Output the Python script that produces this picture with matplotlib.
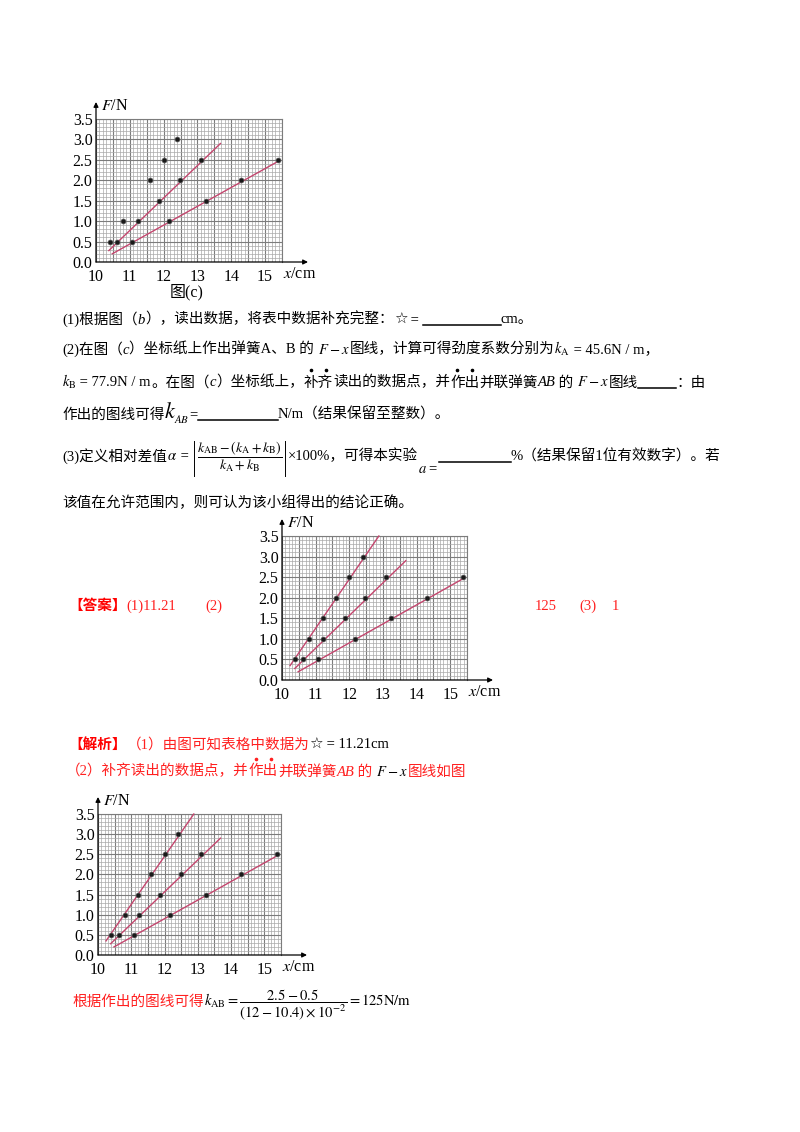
import matplotlib
matplotlib.use('Agg')
import matplotlib.pyplot as plt
from matplotlib.lines import Line2D
import numpy as np

plt.rcParams['mathtext.fontset'] = 'stix'
plt.rcParams['font.family'] = ['Liberation Serif', 'Noto Sans CJK SC', 'DejaVu Sans']

W, H = 800, 1132

# ---------------- data ----------------
x_ticks = [10, 11, 12, 13, 14, 15]
y_ticks = [0.0, 0.5, 1.0, 1.5, 2.0, 2.5, 3.0, 3.5]

# parallel springs AB (complete, used in answer charts)
x_AB = [10.40, 10.80, 11.21, 11.60, 12.00, 12.40]
F_AB = [0.5, 1.0, 1.5, 2.0, 2.5, 3.0]
# parallel springs AB as read in figure (c) (star point missing)
x_AB_c = [10.40, 10.80, 11.60, 12.00, 12.40]
F_AB_c = [0.5, 1.0, 2.0, 2.5, 3.0]
# spring A
x_A = [10.62, 11.23, 11.86, 12.48, 13.10]
F_A = [0.5, 1.0, 1.5, 2.0, 2.5]
# spring B
x_B = [11.07, 12.17, 13.24, 14.30, 15.38]
F_B = [0.5, 1.0, 1.5, 2.0, 2.5]
# fitted lines (end points)
lineA_x = [10.38, 13.68]
lineA_F = [0.28, 2.90]
lineB_x = [10.48, 15.42]
lineB_F = [0.20, 2.48]
lineAB_x = [10.24, 12.88]
lineAB_F = [0.35, 3.50]

LINE_C = '#c4466e'
RED = '#ff2020'

fig = plt.figure(figsize=(W / 100, H / 100), dpi=100)
fig.patch.set_facecolor('white')
renderer = fig.canvas.get_renderer()


def chart(left, y0, width, top, pts, lines):
    h = y0 - top
    ax = fig.add_axes([left / W, 1 - y0 / H, width / W, h / H])
    ax.set_xlim(10, 15.5)
    ax.set_ylim(0, 3.5)
    for i, v in enumerate(np.arange(10, 15.5001, 0.1)):
        major = (i % 5 == 0)
        ax.axvline(v, color='#7c7c7c' if major else '#a9a9a9',
                   lw=0.8 if major else 0.5, zorder=0)
    for i, v in enumerate(np.arange(0, 3.5001, 0.1)):
        major = (i % 5 == 0)
        ax.axhline(v, color='#7c7c7c' if major else '#a9a9a9',
                   lw=0.8 if major else 0.5, zorder=0)
    for s in ['top', 'right']:
        ax.spines[s].set_color('#7c7c7c')
        ax.spines[s].set_linewidth(0.8)
    for s in ['left', 'bottom']:
        ax.spines[s].set_visible(False)
    ap = dict(arrowstyle='-|>', color='black', lw=0.9, mutation_scale=7,
              shrinkA=0, shrinkB=0)
    ax.annotate('', xy=(0, 1 + 17 / h), xytext=(0, 0), xycoords='axes fraction',
                arrowprops=ap, annotation_clip=False)
    ax.annotate('', xy=(1 + 26 / width, 0), xytext=(0, 0), xycoords='axes fraction',
                arrowprops=ap, annotation_clip=False)
    ax.set_xticks(x_ticks)
    ax.set_xticklabels([str(v) for v in x_ticks])
    ax.set_yticks(y_ticks)
    ax.set_yticklabels(['%.1f' % v for v in y_ticks])
    ax.tick_params(axis='x', length=0, labelsize=11.5, pad=5)
    ax.tick_params(axis='y', length=0, labelsize=11.5, pad=2.5)
    for lab in ax.get_yticklabels():
        lab.set_verticalalignment('center_baseline')
    ax.text(5 / width, 1 + 13 / h, r'$F$/N', transform=ax.transAxes,
            fontsize=11.5, ha='left', va='center')
    ax.text(1 + 1 / width, -12 / h, r'$x$/cm', transform=ax.transAxes,
            fontsize=11.5, ha='left', va='center')
    for lx, lf in lines:
        ax.plot(lx, lf, color=LINE_C, lw=1.0, zorder=3, clip_on=False)
    for px, pf in pts:
        ax.plot(px, pf, 'o', ms=3.5, mfc='#1a1a1a', mec='#555555', mew=0.5,
                zorder=4, ls='none')
    return ax


# figure (c)
chart(96, 262, 186, 119,
      [(x_AB_c, F_AB_c), (x_A, F_A), (x_B, F_B)],
      [(lineA_x, lineA_F), (lineB_x, lineB_F)])
fig.text(187 / W, 1 - 292 / H, '图(c)', ha='center', va='center', fontsize=11.5)

# answer chart
chart(282, 680, 185, 536,
      [(x_AB, F_AB), (x_A, F_A), (x_B, F_B)],
      [(lineAB_x, lineAB_F), (lineA_x, lineA_F), (lineB_x, lineB_F)])

# analysis chart
chart(98, 955, 183, 814,
      [(x_AB, F_AB), (x_A, F_A), (x_B, F_B)],
      [(lineAB_x, lineAB_F), (lineA_x, lineA_F), (lineB_x, lineB_F)])


# ---------------- text ----------------
def seq(x, y, parts, size=10.5, color='black'):
    for p in parts:
        kind = p[0]
        if kind == 'g':
            x += p[1]
            continue
        if kind == 'u':
            yy = 1 - (y + 1.5) / H
            fig.add_artist(Line2D([x / W, (x + p[1]) / W], [yy, yy],
                                  color='black', lw=1.1))
            x += p[1]
            continue
        if kind == 'v':
            x += 2
            fig.add_artist(Line2D([x / W, x / W], [1 - (y - 20) / H, 1 - (y + 15) / H],
                                  color='black', lw=0.7))
            x += 3
            continue
        s = p[1]
        kw = dict(size=size, color=color)
        if len(p) > 2:
            kw.update(p[2])
        dy = kw.pop('dy', 0)
        t = fig.text(x / W, 1 - (y + dy) / H, s, ha='left', va='baseline', **kw)
        bb = t.get_window_extent(renderer)
        if kind == 'd':
            n = len(s)
            for i in range(n):
                cx = bb.x0 + (i + 0.5) * bb.width / n
                fig.add_artist(Line2D([cx / W], [(1 - (y - 17) / H)], marker='o',
                                      ms=1.6, color=kw['color'], ls='none'))
        x = bb.x1
    return x


IT = {'style': 'italic'}
STAR = {'family': ['DejaVu Sans'], 'size': 11}
L0 = 62

seq(L0, 323.5, [
    ('t', '(1)根据图（'), ('t', 'b', IT), ('t', '），读出数据，将表中数据补充完整：'),
    ('t', '☆', STAR), ('t', ' = '),
    ('u', 78), ('t', 'cm。')])

seq(L0, 353.5, [
    ('t', '(2)在图（'), ('t', 'c', IT), ('t', '）坐标纸上作出弹簧A、B 的 '),
    ('t', r'$F-x$'), ('t', '图线，计算可得劲度系数分别为'),
    ('t', r'$k_{\rm A}$'), ('t', ' = 45.6N / m，')])

seq(L0, 386.5, [
    ('t', r'$k_{\rm B}$'), ('t', ' = 77.9N / m'), ('t', '。在图（'), ('t', 'c', IT),
    ('t', '）坐标纸上，'), ('d', '补齐'), ('t', '读出的数据点，并'), ('d', '作出'),
    ('t', '并联弹簧'), ('t', 'AB', IT), ('t', ' 的 '), ('t', r'$F-x$'), ('t', '图线'),
    ('u', 38), ('t', '：由')])

seq(L0, 418.5, [
    ('t', '作出的图线可得'), ('t', r'$k_{_{AB}}$', {'size': 16}), ('t', '='),
    ('u', 80), ('t', 'N/m（结果保留至整数）。')])

seq(L0, 460.5, [
    ('t', '(3)定义相对差值'), ('t', r'$\alpha$'), ('t', ' = '), ('v',),
    ('t', r'$\dfrac{k_{\rm AB}-\left(k_{\rm A}+k_{\rm B}\right)}{k_{\rm A}+k_{\rm B}}$',
     {'size': 10}),
    ('v',),
    ('t', '×100%，可得本实验'), ('t', r'$a$ =', {'dy': 12}), ('u', 72),
    ('t', '%（结果保留1位有效数字）。若')])

seq(L0, 507.5, [('t', '该值在允许范围内，则可认为该小组得出的结论正确。')])

# answer row
seq(68, 609.5, [('t', '【答案】', {'weight': 'bold', 'color': '#ff0000'}),
                ('t', '(1)11.21')], color=RED)
seq(205, 609.5, [('t', '(2)')], color=RED)
seq(535, 609.5, [('t', '125'), ('g', 22), ('t', '(3)'), ('g', 16), ('t', '1')], color=RED)

# analysis
seq(68, 748.5, [('t', '【解析】', {'weight': 'bold', 'color': '#ff0000'}),
                ('t', '（1）由图可知表格中数据为'),
                ('t', '☆', dict(STAR, color='black')),
                ('t', ' = 11.21cm', {'color': 'black'})], color=RED)

seq(66, 775.5, [('t', '（2）补齐读出的数据点，并'), ('d', '作出'), ('t', '并联弹簧'),
                ('t', 'AB', IT), ('t', ' 的 '), ('t', r'$F-x$', {'color': 'black'}),
                ('t', '图线如图')], color=RED)

seq(72, 1005.5, [('t', '根据作出的图线可得'),
                 ('t', r'$k_{\rm AB}=\dfrac{2.5-0.5}{\left(12-10.4\right)\times10^{-2}}=125{\rm N/m}$',
                  {'color': 'black'})], color=RED)

fig.savefig('out.png', dpi=100, facecolor='white')
